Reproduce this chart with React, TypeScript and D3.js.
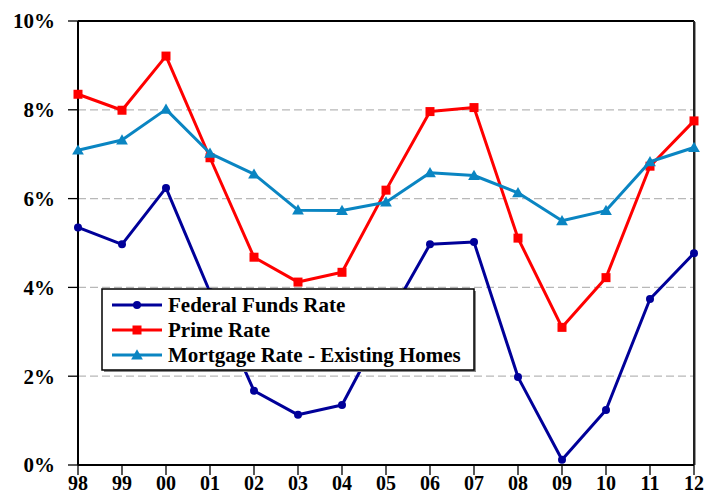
import { line, scaleLinear, scalePoint, symbol, symbolTriangle } from "d3";
import { useMemo } from "react";

const years = ["98", "99", "00", "01", "02", "03", "04", "05", "06", "07", "08", "09", "10", "11", "12"];
const fedFunds = [5.35, 4.97, 6.24, 3.89, 1.67, 1.13, 1.35, 3.22, 4.97, 5.02, 1.98, 0.12, 1.24, 3.74, 4.77];
const primeRate = [8.35, 7.99, 9.21, 6.92, 4.68, 4.12, 4.34, 6.19, 7.96, 8.05, 5.11, 3.1, 4.22, 6.73, 7.75];
const mortgageRate = [7.09, 7.32, 8.01, 7.02, 6.55, 5.74, 5.73, 5.92, 6.58, 6.52, 6.13, 5.5, 5.73, 6.83, 7.15];
const yTicks = [0, 2, 4, 6, 8, 10];
const gridTicks = [2, 4, 6, 8];

const width = 717;
const height = 497;
const margin = { left: 78, right: 23, top: 21, bottom: 32 };
const fontFamily = '"Liberation Serif", "DejaVu Serif", "Times New Roman", serif';

const fedColor = "#000099";
const primeColor = "#ff0000";
const mortgageColor = "#0a85c2";

type Marker = "circle" | "square" | "triangle";

function MarkerShape({ kind, x, y, color }: { kind: Marker; x: number; y: number; color: string }) {
  if (kind === "circle") {
    return <circle cx={x} cy={y} r={4} fill={color} />;
  }
  if (kind === "square") {
    return <rect x={x - 4.5} y={y - 4.5} width={9} height={9} fill={color} />;
  }
  const tri = symbol().type(symbolTriangle).size(60)() ?? "";
  return <path d={tri} transform={`translate(${x},${y + 1})`} fill={color} />;
}

function App() {
  const innerWidth = width - margin.left - margin.right;
  const innerHeight = height - margin.top - margin.bottom;

  const x = useMemo(
    () => scalePoint<string>().domain(years).range([0, innerWidth]).padding(0),
    [innerWidth]
  );
  const y = useMemo(
    () => scaleLinear().domain([0, 10]).range([innerHeight, 0]),
    [innerHeight]
  );

  const series = [
    { name: "Federal Funds Rate", values: fedFunds, color: fedColor, marker: "circle" as Marker },
    { name: "Prime Rate", values: primeRate, color: primeColor, marker: "square" as Marker },
    { name: "Mortgage Rate - Existing Homes", values: mortgageRate, color: mortgageColor, marker: "triangle" as Marker }
  ];

  const builder = line<number>()
    .x((_, i) => x(years[i]) ?? 0)
    .y((d) => y(d));

  const legend = { x: 102, y: 289, w: 372, h: 81 };
  const textStyle = { fontFamily, fontWeight: 700 };

  return (
    <svg
      width={width}
      height={height}
      style={{ position: "absolute", left: 0, top: 0, background: "#fff" }}
    >
      <g transform={`translate(${margin.left},${margin.top})`}>
        {gridTicks.map((t) => (
          <line
            key={t}
            x1={0}
            x2={innerWidth}
            y1={y(t)}
            y2={y(t)}
            stroke="#b8b8b8"
            strokeWidth={1.3}
            strokeDasharray="8 4"
          />
        ))}
        {/* frame */}
        <line x1={0} x2={innerWidth} y1={0} y2={0} stroke="#000" strokeWidth={2} />
        <line x1={innerWidth} x2={innerWidth} y1={0} y2={innerHeight} stroke="#222" strokeWidth={2} />
        <line x1={innerWidth + 1.5} x2={innerWidth + 1.5} y1={1} y2={innerHeight} stroke="#999" strokeWidth={1} />
        <line x1={0} x2={0} y1={0} y2={innerHeight} stroke="#000" strokeWidth={2} />
        <line x1={0} x2={innerWidth} y1={innerHeight} y2={innerHeight} stroke="#000" strokeWidth={2} />
        {yTicks.map((t) => (
          <g key={t}>
            <line x1={-10} x2={0} y1={y(t)} y2={y(t)} stroke="#000" strokeWidth={1.3} />
            <text
              x={-23}
              y={y(t)}
              dy="0.35em"
              textAnchor="end"
              style={{ ...textStyle, fontSize: 21 }}
            >
              {`${t}%`}
            </text>
          </g>
        ))}
        {years.map((yr) => (
          <g key={yr}>
            <line
              x1={x(yr)}
              x2={x(yr)}
              y1={innerHeight}
              y2={innerHeight + 10}
              stroke="#000"
              strokeWidth={1.3}
            />
            <text
              x={x(yr)}
              y={innerHeight + 25}
              textAnchor="middle"
              style={{ ...textStyle, fontSize: 20 }}
            >
              {yr}
            </text>
          </g>
        ))}
        {series.map((s) => (
          <g key={s.name}>
            <path d={builder(s.values) ?? ""} fill="none" stroke={s.color} strokeWidth={3} strokeLinejoin="round" />
            {s.values.map((v, i) => (
              <MarkerShape key={i} kind={s.marker} x={x(years[i]) ?? 0} y={y(v)} color={s.color} />
            ))}
          </g>
        ))}
      </g>
      <g>
        <rect x={legend.x + 2} y={legend.y + 2} width={legend.w} height={legend.h} fill="#888" />
        <rect x={legend.x} y={legend.y} width={legend.w} height={legend.h} fill="#fff" stroke="#000" strokeWidth={1.5} />
        {series.map((s, i) => {
          const ry = legend.y + 16 + i * 25;
          return (
            <g key={s.name}>
              <line x1={112} x2={162} y1={ry} y2={ry} stroke={s.color} strokeWidth={3} />
              <MarkerShape kind={s.marker} x={137} y={ry} color={s.color} />
              <text x={168} y={ry} dy="0.33em" style={{ ...textStyle, fontSize: 21 }}>
                {s.name}
              </text>
            </g>
          );
        })}
      </g>
    </svg>
  );
}

export default App;
